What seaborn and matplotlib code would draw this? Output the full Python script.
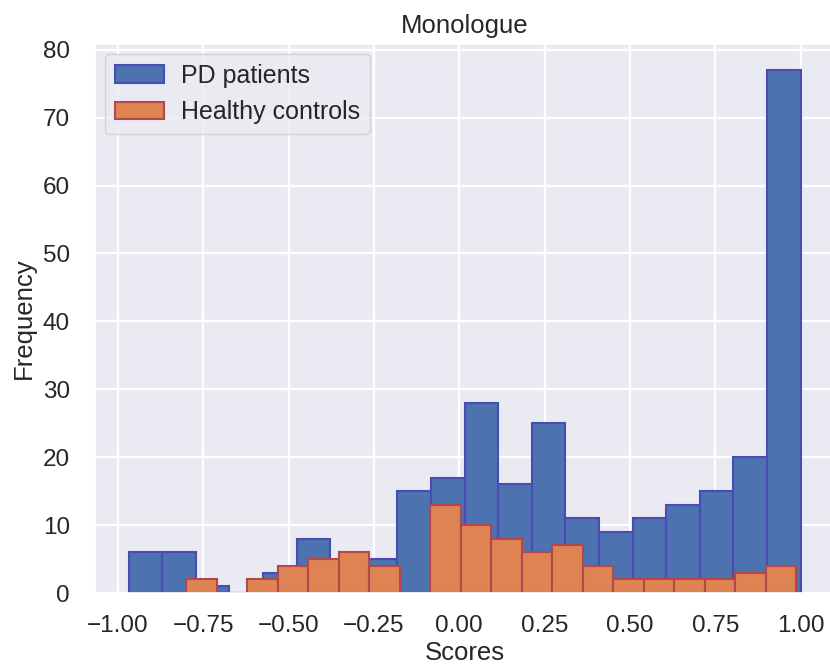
import numpy as np
import pandas as pd
import matplotlib
matplotlib.use("Agg")
import matplotlib.pyplot as plt
import seaborn as sns

# Data (counts per bin)
pd_range = (-0.969, 1.0)
pd_counts = [6, 6, 1, 0, 3, 8, 4, 5, 15, 17, 28, 16, 25, 11, 9, 11, 13, 15, 20, 77]
hc_range = (-0.80, 0.988)
hc_counts = [2, 0, 2, 4, 5, 6, 4, 0, 13, 10, 8, 6, 7, 4, 2, 2, 2, 2, 3, 4]
x_ticks = [-1.00, -0.75, -0.50, -0.25, 0.00, 0.25, 0.50, 0.75, 1.00]
y_ticks = [0, 10, 20, 30, 40, 50, 60, 70, 80]

sns.set_theme(style="darkgrid", rc={"grid.linewidth": 1.6})
plt.rcParams['font.family'] = ['Liberation Sans', 'DejaVu Sans']

def centers(rng, n):
    edges = np.linspace(rng[0], rng[1], n + 1)
    return (edges[:-1] + edges[1:]) / 2

fig = plt.figure(figsize=(8.3, 6.66), dpi=100)
ax = fig.add_axes([0.1145, 0.1096, 0.8905, 0.8244])

sns.histplot(x=centers(pd_range, len(pd_counts)), weights=pd_counts,
             bins=len(pd_counts), binrange=pd_range, ax=ax,
             color="#4C72B0", edgecolor="#4B4BB5", linewidth=1.5, alpha=1,
             label="PD patients")
sns.histplot(x=centers(hc_range, len(hc_counts)), weights=hc_counts,
             bins=len(hc_counts), binrange=hc_range, ax=ax,
             color="#DD8452", edgecolor="#B5474A", linewidth=1.5, alpha=1,
             label="Healthy controls")

ax.set_xticks(x_ticks)
ax.set_xticklabels([f"{t:.2f}".replace("-", "\u2212") for t in x_ticks])
ax.set_yticks(y_ticks)
ax.tick_params(axis='both', labelsize=17.5, colors="#262626")
ax.tick_params(axis='x', pad=10)
ax.tick_params(axis='y', pad=12)
ax.set_xlabel("Scores", fontsize=18.5, labelpad=3)
ax.set_ylabel("Frequency", fontsize=18.5, labelpad=5)
ax.set_title("Monologue", fontsize=18.5, pad=8)
ax.legend(loc="upper left", fontsize=18, handlelength=1.95, handletextpad=0.7,
          borderaxespad=0.4)

fig.savefig("out.png", dpi=100)
